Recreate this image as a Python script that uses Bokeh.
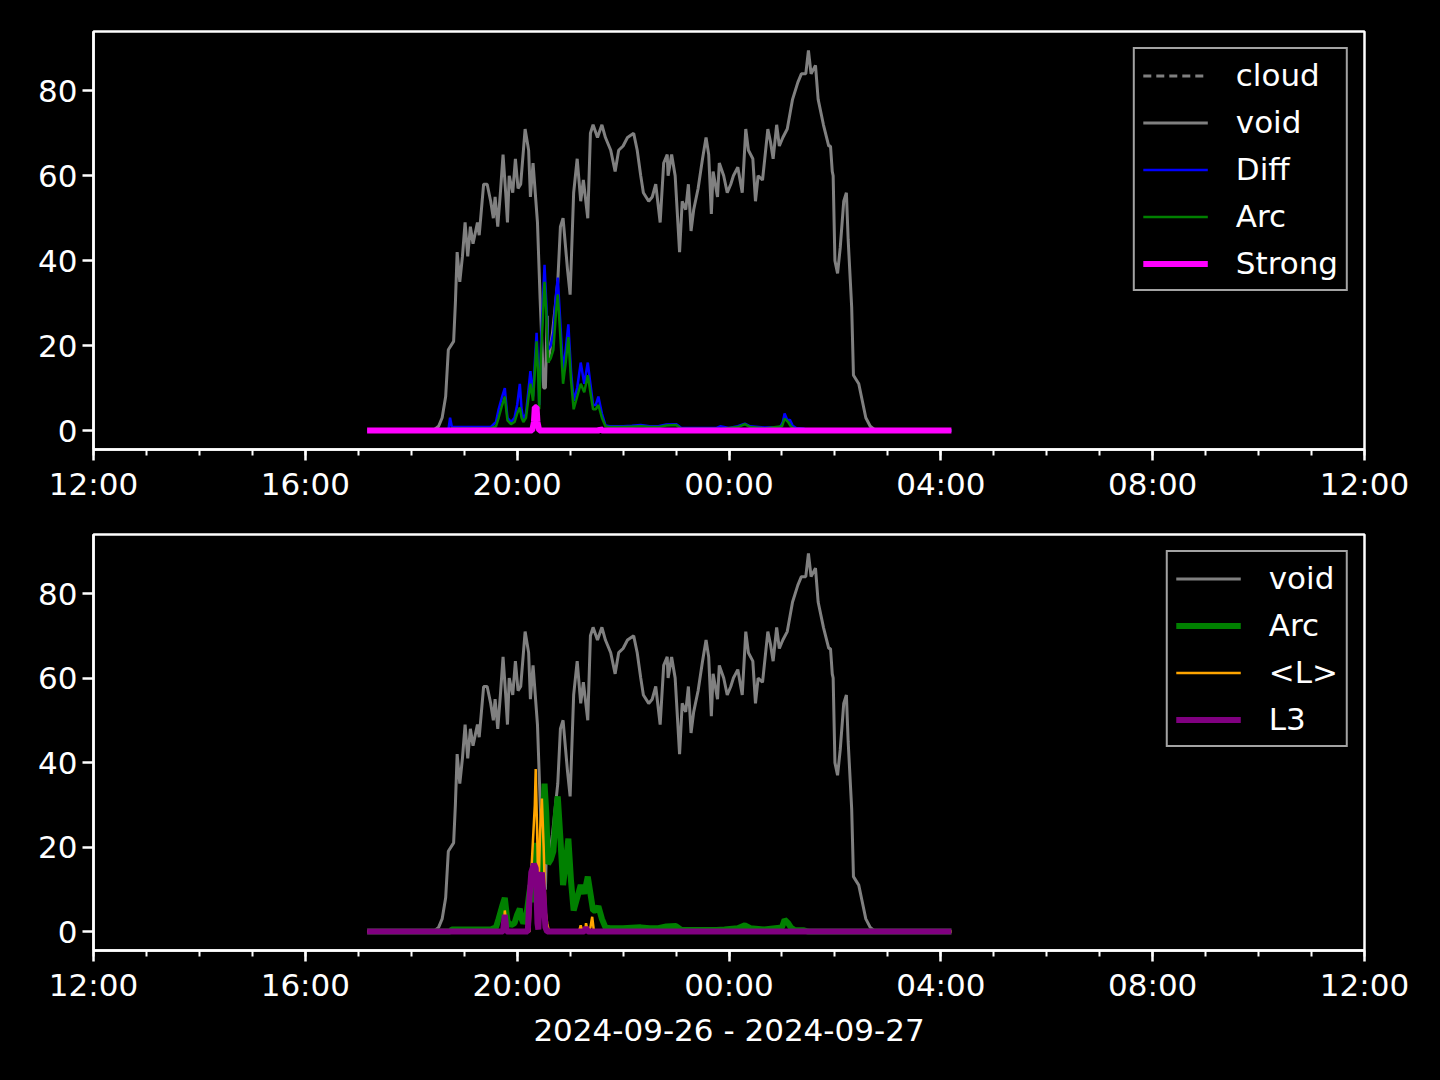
import pandas as pd
from bokeh.plotting import figure
from bokeh.layouts import column
from bokeh.models import (Range1d, FixedTicker, DatetimeTickFormatter, Legend,
                          LegendItem, ColumnDataSource)
from bokeh.embed import file_html
from bokeh.resources import INLINE

DAY0 = "2024-09-26"
DAY1 = "2024-09-27"
X_START = "12:00"
X_END = "12:00"

# ---------------- data ----------------
void_time = ["17:10", "18:25", "18:31", "18:35", "18:39", "18:42", "18:48", "18:50", "18:52", "18:55",
             "18:58", "19:01", "19:04", "19:07", "19:10", "19:15", "19:17", "19:22", "19:26", "19:30",
             "19:33", "19:35", "19:38", "19:41", "19:44", "19:47", "19:49", "19:51", "19:55", "19:58",
             "20:01", "20:04", "20:09", "20:13", "20:15", "20:18", "20:23", "20:26", "20:30", "20:32",
             "20:34", "20:35", "20:40", "20:46", "20:49", "20:52", "20:57", "21:00", "21:04", "21:08",
             "21:12", "21:15", "21:20", "21:23", "21:26", "21:31", "21:36", "21:40", "21:46", "21:51",
             "21:55", "22:00", "22:05", "22:12", "22:16", "22:20", "22:23", "22:29", "22:33", "22:37",
             "22:42", "22:46", "22:50", "22:51", "22:55", "22:59", "23:04", "23:07", "23:11", "23:14",
             "23:17", "23:20", "23:25", "23:30", "23:34", "23:37", "23:40", "23:42", "23:47", "23:49",
             "23:54", "23:58", "00:02", "00:05", "00:10", "00:15", "00:19", "00:22", "00:27", "00:30",
             "00:33", "00:38", "00:44", "00:47", "00:50", "00:54", "00:57", "01:01", "01:06", "01:12",
             "01:18", "01:22", "01:27", "01:30", "01:33", "01:38", "01:41", "01:47", "01:53", "01:55",
             "01:57", "01:58", "02:00", "02:03", "02:06", "02:10", "02:13", "02:15", "02:19", "02:21",
             "02:27", "02:31", "02:35", "02:40", "02:46", "04:12"]
void = [0, 0, 1, 3, 8, 19, 21, 30, 42, 35,
        41, 49, 41, 48, 44, 49, 46, 58, 58, 54,
        50, 55, 48, 56, 65, 56, 49, 60, 56, 64,
        57, 58, 71, 66, 55, 63, 49, 31, 10, 10,
        27, 16, 23, 35, 48, 50, 38, 32, 56, 64,
        54, 59, 50, 70, 72, 69, 72, 69, 66, 61,
        66, 67, 69, 70, 66, 60, 56, 54, 55, 58,
        49, 63, 65, 60, 65, 60, 42, 54, 52, 58,
        47, 52, 57, 64, 69, 65, 51, 61, 55, 63,
        60, 56, 58, 60, 62, 56, 71, 66, 64, 54,
        60, 59, 71, 68, 64, 72, 67, 69, 71, 78,
        82, 84, 84, 89.5, 84, 86, 78, 72, 67, 67,
        61, 60, 40, 37, 43, 54, 56, 45, 29, 13,
        11, 7, 3, 1, 0, 0]

# cloud has no valid values in this window
cloud_time = ["17:10", "04:12"]
cloud = [float("nan"), float("nan")]

diff_time = ["17:10", "18:42", "18:44", "18:46", "19:30", "19:36", "19:39", "19:43", "19:46", "19:49",
             "19:53", "19:57", "20:00", "20:03", "20:05", "20:07", "20:10", "20:13", "20:15", "20:18",
             "20:20", "20:22", "20:24", "20:25", "20:27", "20:29", "20:31", "20:33", "20:35", "20:38",
             "20:41", "20:44", "20:46", "20:49", "20:52", "20:55", "20:58", "21:01", "21:04", "21:08",
             "21:12", "21:16", "21:20", "21:23", "21:26", "21:29", "21:32", "21:36", "21:40", "21:45",
             "22:00", "22:10", "22:20", "22:30", "22:40", "22:49", "23:00", "23:06", "23:46", "23:50",
             "00:00", "00:10", "00:18", "00:24", "00:40", "00:58", "01:01", "01:03", "01:06", "01:09",
             "01:12", "01:16", "01:25", "01:30", "04:12"]
diff = [0, 0, 3, 0.8, 0.8, 2, 5, 8, 10, 3,
        2, 3, 6, 11, 5, 2.5, 4, 10, 14, 8,
        16, 23, 14, 6, 20, 30, 39, 30, 19, 20,
        23, 32, 36, 25, 14, 19, 25, 14, 7, 10,
        16, 11, 16, 11, 6, 6, 8, 4, 1.2, 1,
        1, 1.1, 1.3, 1, 1, 1.4, 1.5, 0.6, 0.6, 1,
        0.6, 1, 1.6, 1, 0.7, 0.8, 2, 4, 2.5, 2.5,
        1.2, 0.6, 0.4, 0, 0]

arc_time = ["17:10", "18:44", "18:46", "19:30", "19:36", "19:39", "19:43", "19:46", "19:49", "19:53",
            "19:57", "20:00", "20:03", "20:05", "20:07", "20:10", "20:13", "20:15", "20:18", "20:20",
            "20:22", "20:24", "20:25", "20:27", "20:29", "20:31", "20:33", "20:35", "20:38", "20:41",
            "20:44", "20:46", "20:49", "20:52", "20:55", "20:58", "21:01", "21:04", "21:08", "21:12",
            "21:16", "21:20", "21:23", "21:26", "21:29", "21:32", "21:36", "21:40", "21:45", "22:00",
            "22:10", "22:20", "22:30", "22:40", "22:49", "23:00", "23:06", "23:46", "23:55", "00:10",
            "00:18", "00:24", "00:40", "01:00", "01:03", "01:07", "01:10", "01:14", "01:25", "01:30",
            "04:12"]
arc = [0, 0, 0.5, 0.5, 1, 3, 6, 8, 2.4, 1.5,
       2, 4, 5.4, 3, 2, 3, 8, 11, 7, 14,
       21, 12, 5, 18, 26, 35, 28, 16, 17, 19,
       28, 32, 22, 11, 16, 22, 12, 5, 8, 11,
       9, 13, 9, 5, 5, 6, 3, 1, 0.8, 0.8,
       0.9, 1, 0.8, 0.8, 1.2, 1.3, 0.4, 0.4, 0.5, 0.8,
       1.5, 0.8, 0.5, 1, 2.8, 2, 1, 0.4, 0.3, 0,
       0]

strong_time = ["17:10", "20:17", "20:19", "20:20", "20:22", "20:23", "20:25", "21:33", "21:34", "21:36", "04:12"]
strong = [0, 0, 2, 5.5, 5.5, 2, 0, 0, 0.5, 0, 0]

meanl_time = ["17:10", "19:43", "19:45", "19:46", "19:48", "19:50", "20:14", "20:16", "20:18", "20:20",
              "20:21", "20:23", "20:24", "20:26", "20:28", "20:30", "20:32", "20:34", "20:36", "21:10",
              "21:12", "21:14", "21:17", "21:18", "21:20", "21:23", "21:25", "21:27", "04:12"]
meanl = [0, 0, 2, 5, 1, 0, 0, 14, 22, 30,
         38.5, 20, 8, 24, 31.5, 20, 5, 2, 0, 0,
         1.5, 0, 0, 2, 0, 1, 3.5, 0, 0]

l3_time = ["17:10", "19:44", "19:46", "19:48", "20:12", "20:14", "20:16", "20:19", "20:21", "20:23",
           "20:24", "20:26", "20:28", "20:30", "20:32", "20:34", "21:16", "21:18", "21:20", "04:12"]
l3 = [0, 0, 4, 0, 0, 8, 14, 16, 15, 2,
      0.5, 12, 14, 8, 1, 0, 0, 1, 0, 0]

x_label = "2024-09-26 - 2024-09-27"
y_ticks = [0, 20, 40, 60, 80]


def to_dt(hhmm, day_start=False):
    h = int(hhmm[:2])
    day = DAY0 if (h >= 12 or day_start) else DAY1
    return pd.Timestamp(f"{day} {hhmm}")


def src(times, vals):
    return ColumnDataSource(dict(x=[to_dt(t) for t in times], y=list(vals)))


def ms(ts):
    return ts.value / 1e6


x0 = to_dt(X_START, day_start=True)
x1 = pd.Timestamp(f"{DAY1} {X_END}")
major = [ms(x0 + pd.Timedelta(hours=4 * k)) for k in range(7)]
minor = [ms(x0 + pd.Timedelta(hours=k)) for k in range(25)]

all_vals = void + diff + arc + strong + meanl + l3
ymax = max(all_vals)
ymin = min(all_vals)
pad = 0.05 * (ymax - ymin)

FONT = "DejaVu Sans"
FS = "31px"


def make_fig(frame_h, top_b, bottom_b, xlabel=None):
    p = figure(x_axis_type="datetime", frame_width=1271, frame_height=frame_h,
               min_border_left=93, min_border_right=68,
               min_border_top=top_b, min_border_bottom=bottom_b,
               x_range=Range1d(ms(x0), ms(x1)), y_range=Range1d(ymin - pad, ymax + pad),
               output_backend="svg", toolbar_location=None,
               background_fill_color="black", border_fill_color="black")
    p.outline_line_color = "white"
    p.outline_line_width = 2.5
    p.grid.visible = False
    p.xaxis.ticker = FixedTicker(ticks=major, minor_ticks=minor)
    p.xaxis.formatter = DatetimeTickFormatter(
        hours="%H:%M", hourmin="%H:%M", days="%H:%M", minutes="%H:%M",
        minsec="%H:%M", months="%H:%M", years="%H:%M")
    p.yaxis.ticker = FixedTicker(ticks=y_ticks, minor_ticks=[])
    for ax in (p.xaxis[0], p.yaxis[0]):
        ax.axis_line_color = "white"
        ax.axis_line_width = 2.5
        ax.major_tick_line_color = "white"
        ax.major_tick_line_width = 2.5
        ax.major_tick_out = 11
        ax.major_tick_in = 0
        ax.minor_tick_line_color = "white"
        ax.minor_tick_line_width = 2
        ax.minor_tick_out = 6
        ax.minor_tick_in = 0
        ax.major_label_text_color = "white"
        ax.major_label_text_font = FONT
        ax.major_label_text_font_size = FS
        ax.major_label_standoff = 5
    if xlabel:
        p.xaxis.axis_label = xlabel
        p.xaxis.axis_label_text_color = "white"
        p.xaxis.axis_label_text_font = FONT
        p.xaxis.axis_label_text_font_size = FS
        p.xaxis.axis_label_text_font_style = "normal"
        p.xaxis.axis_label_standoff = 6
    return p


def style_legend(lg):
    lg.location = "top_right"
    lg.margin = 16
    lg.padding = 8
    lg.spacing = 11
    lg.glyph_width = 65
    lg.glyph_height = 35
    lg.label_height = 35
    lg.label_standoff = 28
    lg.background_fill_color = "black"
    lg.background_fill_alpha = 0.8
    lg.border_line_color = "#cccccc"
    lg.border_line_alpha = 0.8
    lg.border_line_width = 2.5
    lg.label_text_color = "white"
    lg.label_text_font = FONT
    lg.label_text_font_size = FS


# ---------------- top panel ----------------
p1 = make_fig(418, 31, 60)
r_cloud = p1.line("x", "y", source=src(cloud_time, cloud), line_color="gray", line_width=3, line_dash="8 5")
r_void = p1.line("x", "y", source=src(void_time, void), line_color="gray", line_width=3)
r_diff = p1.line("x", "y", source=src(diff_time, diff), line_color="blue", line_width=2.5)
r_arc = p1.line("x", "y", source=src(arc_time, arc), line_color="green", line_width=2.5)
r_strong = p1.line("x", "y", source=src(strong_time, strong), line_color="magenta", line_width=6)
lg1 = Legend(items=[LegendItem(label="cloud", renderers=[r_cloud]),
                    LegendItem(label="void", renderers=[r_void]),
                    LegendItem(label="Diff", renderers=[r_diff]),
                    LegendItem(label="Arc", renderers=[r_arc]),
                    LegendItem(label="Strong", renderers=[r_strong])])
style_legend(lg1)
p1.add_layout(lg1)

# ---------------- bottom panel ----------------
p2 = make_fig(416, 25, 110, xlabel=x_label)
q_void = p2.line("x", "y", source=src(void_time, void), line_color="gray", line_width=3)
q_arc = p2.line("x", "y", source=src(arc_time, arc), line_color="green", line_width=6)
q_l = p2.line("x", "y", source=src(meanl_time, meanl), line_color="orange", line_width=2.5)
q_l3 = p2.line("x", "y", source=src(l3_time, l3), line_color="purple", line_width=6)
lg2 = Legend(items=[LegendItem(label="void", renderers=[q_void]),
                    LegendItem(label="Arc", renderers=[q_arc]),
                    LegendItem(label="<L>", renderers=[q_l]),
                    LegendItem(label="L3", renderers=[q_l3])])
style_legend(lg2)
p2.add_layout(lg2)

layout = column(p1, p2)
html = file_html(layout, INLINE, title="plot")
html = html.replace("<head>", "<head><style>html,body{background:#000000;}</style>", 1)
open("out.html", "w").write(html)
